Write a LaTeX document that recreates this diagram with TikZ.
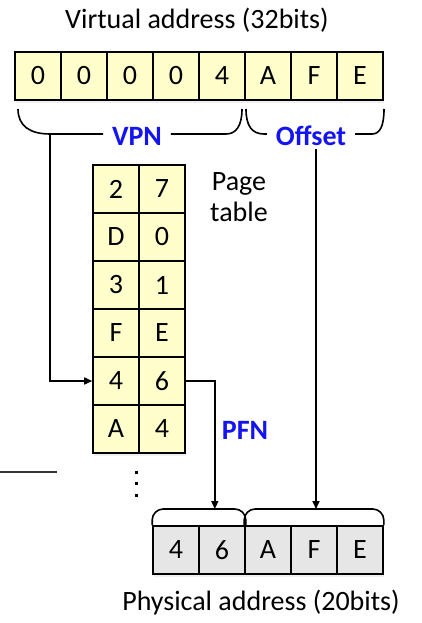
\documentclass[tikz,border=0pt]{standalone}
\usepackage{fontspec}
\setmainfont{Carlito}
\usetikzlibrary{arrows.meta,shadows}

\definecolor{cellyellow}{RGB}{255,255,204}
\definecolor{cellgray}{RGB}{230,230,230}
\definecolor{lblblue}{RGB}{20,20,240}

\begin{document}
\begin{tikzpicture}[x=1pt, y=-1pt,
	every node/.style={font=\fontsize{28}{31}\selectfont, inner sep=0pt},
	cell/.style={rectangle, draw=black, line width=1.6pt, fill=cellyellow, minimum width=46pt, minimum height=48pt,
		drop shadow={shadow xshift=0.5pt, shadow yshift=-3pt, opacity=0.12}},
	pcell/.style={cell, fill=cellgray},
	lbl/.style={text=lblblue, font=\fontsize{28}{31}\selectfont\bfseries},
	line/.style={draw=black, line width=1.6pt},
	arr/.style={line, -{Triangle[length=8pt, width=7pt]}}]
	\useasboundingbox (0,0) rectangle (422,623);

	\node (vtitle) at (197,20) {Virtual address (32bits)};

	% virtual address
	\node[cell] (v1) at (38,76) {0};
	\node[cell] (v2) at (84,76) {0};
	\node[cell] (v3) at (130,76) {0};
	\node[cell] (v4) at (176,76) {0};
	\node[cell] (v5) at (222,76) {4};
	\node[cell] (v6) at (268,76) {A};
	\node[cell] (v7) at (314,76) {F};
	\node[cell] (v8) at (360,76) {E};

	\node[lbl, outer sep=9pt] (vpn) at (137,136) {VPN};
	\node[lbl, outer sep=9pt] (offset) at (311,136) {Offset};

	% braces
	\coordinate (vpnfoot) at (50,134);
	\draw[line] (18,109) .. controls (18,126) and (30,134) .. (vpnfoot) -- (vpn.west |- vpnfoot);
	\draw[line] (vpn.east |- vpnfoot) -- (226,134) .. controls (236,134) and (242,126) .. (242,109);
	\draw[line] (246,109) .. controls (246,126) and (252,134) .. (264,134) -- (offset.west |- vpnfoot);
	\draw[line] (offset.east |- vpnfoot) -- (372,134) .. controls (380,134) and (384,126) .. (384,109);

	% page table
	\node[cell] (p1a) at (116,189) {2};
	\node[cell] (p1b) at (162,189) {7};
	\node[cell] (p2a) at (116,237) {D};
	\node[cell] (p2b) at (162,237) {0};
	\node[cell] (p3a) at (116,285) {3};
	\node[cell] (p3b) at (162,285) {1};
	\node[cell] (p4a) at (116,333) {F};
	\node[cell] (p4b) at (162,333) {E};
	\node[cell] (p5a) at (116,381) {4};
	\node[cell] (p5b) at (162,381) {6};
	\node[cell] (p6a) at (116,429) {A};
	\node[cell] (p6b) at (162,429) {4};

	\node[align=center] (ptname) at (239,197) {Page\\table};
	\node[lbl] (pfn) at (245,430) {PFN};

	% dots
	\fill (134.5,470.5) rectangle +(3,3);
	\fill (134.5,482) rectangle +(3,3);
	\fill (134.5,493.5) rectangle +(3,3);
	\draw[line, draw=black!80, line width=1.3pt] (0,472) -- (57,472);

	% physical address
	\node[pcell] (a1) at (176,550) {4};
	\node[pcell] (a2) at (222,550) {6};
	\node[pcell] (a3) at (268,550) {A};
	\node[pcell] (a4) at (314,550) {F};
	\node[pcell] (a5) at (360,550) {E};

	\coordinate (pfntop) at (214,509);
	\coordinate (offtop) at (316,509);
	\draw[line, rounded corners=11pt] (a1.north west) |- (a2.north east |- pfntop) -- (a2.north east);
	\draw[line, rounded corners=11pt] (a3.north west) |- (a5.north east |- offtop) -- (a5.north east);

	\node (ptitle) at (261,603) {Physical address (20bits)};

	% connectors
	\draw[arr] (vpnfoot) |- (p5a.west);
	\draw[arr] (p5b.east) -- ++(29,0) coordinate (pfnbend) -- (pfnbend |- pfntop);
	\draw[arr] (offset.south -| offtop) ++(0,-6) -- (offtop);
\end{tikzpicture}
\end{document}
